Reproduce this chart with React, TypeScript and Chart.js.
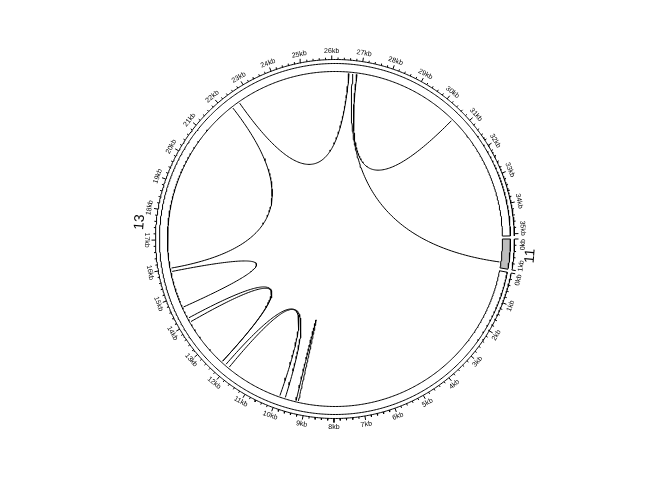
import { useEffect, useRef } from "react";
import { Chart, registerables } from "chart.js";

Chart.register(...registerables);

// ---- data ----
const sectorNames = ["11", "13"];
const sectorLengthsKb = [1.0, 35.07];
const sectorColors = ["#BEBEBE", "#FFFFFF"];

// links: each end is a sector index with a start/end position in kb
const linkFromSector = [0, 1, 1, 1, 1, 1, 1, 1];
const linkFromStartKb = [0.8, 26.87, 26.59, 22.28, 15.9, 14.03, 11.95, 9.25];
const linkFromEndKb = [0.8, 26.87, 26.59, 22.28, 15.9, 14.18, 12.1, 9.25];
const linkToSector = [1, 1, 1, 1, 1, 1, 1, 1];
const linkToStartKb = [26.73, 30.59, 22.57, 16.02, 14.6, 12.26, 9.72, 9.33];
const linkToEndKb = [26.73, 30.59, 22.57, 16.02, 14.6, 12.26, 9.92, 9.33];

const majorTickStepKb = 1;
const minorTicksPerMajor = 4;

// ---- layout / style ----
const START_DEG = 0;
const GAP_DEG = 1;
const R_AXIS = 179.5;
const R_TRACK_OUT = 175.5;
const R_TRACK_IN = 167.5;
const R_LINK = 166;
const R_TICKLABEL = 188;
const R_SECTORLABEL = 196;
const MAJOR_TICK = 4;
const MINOR_TICK = 2;
const FONT = "'Liberation Sans', Arial, Helvetica, sans-serif";

const totalKb = sectorLengthsKb.reduce((a, b) => a + b, 0);
const degPerKb = (360 - GAP_DEG * sectorLengthsKb.length) / totalKb;
const sectorStartDeg: number[] = [];
{
  let a = START_DEG;
  for (let i = 0; i < sectorLengthsKb.length; i++) {
    sectorStartDeg.push(a);
    a += sectorLengthsKb[i] * degPerKb + GAP_DEG;
  }
}
const angOf = (s: number, kb: number) => sectorStartDeg[s] + kb * degPerKb;
const pt = (deg: number, r: number) => {
  const t = (deg * Math.PI) / 180;
  return { x: r * Math.cos(t), y: -r * Math.sin(t) };
};
const arc = (d1: number, d2: number, r: number) => {
  const n = Math.max(2, Math.ceil(Math.abs(d2 - d1) * 2));
  const out = [];
  for (let i = 0; i <= n; i++) out.push(pt(d1 + ((d2 - d1) * i) / n, r));
  return out;
};
// quadratic bezier between two points on the circle, control point at the centre
const bezier = (d1: number, d2: number, r: number) => {
  const p0 = pt(d1, r);
  const p2 = pt(d2, r);
  const out = [];
  const n = 100;
  for (let i = 0; i <= n; i++) {
    const t = i / n;
    const a = (1 - t) * (1 - t);
    const c = t * t;
    out.push({ x: a * p0.x + c * p2.x, y: a * p0.y + c * p2.y });
  }
  return out;
};

function buildDatasets() {
  const ds: any[] = [];
  const line = (data: any[], extra: any = {}) =>
    ds.push({
      type: "scatter",
      data,
      showLine: true,
      borderColor: "#000000",
      borderWidth: 1,
      pointRadius: 0,
      pointHoverRadius: 0,
      fill: false,
      tension: 0,
      ...extra,
    });

  // track cells
  sectorLengthsKb.forEach((len, s) => {
    const a1 = angOf(s, 0);
    const a2 = angOf(s, len);
    const poly = [...arc(a1, a2, R_TRACK_OUT), ...arc(a2, a1, R_TRACK_IN)];
    poly.push(poly[0]);
    line(poly, { fill: "shape", backgroundColor: sectorColors[s] });
  });

  // axes
  const ticks: any[] = [];
  sectorLengthsKb.forEach((len, s) => {
    line(arc(angOf(s, 0), angOf(s, len), R_AXIS));
    const step = majorTickStepKb / (minorTicksPerMajor + 1);
    const n = Math.floor(len / step + 1e-9);
    for (let i = 0; i <= n; i++) {
      const kb = i * step;
      const major = i % (minorTicksPerMajor + 1) === 0;
      const a = angOf(s, kb);
      ticks.push(pt(a, R_AXIS), pt(a, R_AXIS + (major ? MAJOR_TICK : MINOR_TICK)), { x: NaN, y: NaN });
    }
  });
  line(ticks, { spanGaps: false });

  // links
  for (let i = 0; i < linkFromSector.length; i++) {
    const a1 = angOf(linkFromSector[i], linkFromStartKb[i]);
    const a2 = angOf(linkFromSector[i], linkFromEndKb[i]);
    const b1 = angOf(linkToSector[i], linkToStartKb[i]);
    const b2 = angOf(linkToSector[i], linkToEndKb[i]);
    if (a1 === a2 && b1 === b2) {
      line(bezier(a1, b1, R_LINK));
    } else {
      line(bezier(a1, b2, R_LINK));
      line(bezier(a2, b1, R_LINK));
    }
  }
  return ds;
}

const textPlugin = {
  id: "circosText",
  afterDatasetsDraw(chart: any) {
    const { ctx, scales } = chart;
    const xs = scales.x;
    const ys = scales.y;
    const put = (txt: string, deg: number, r: number, size: number, lo?: number, hi?: number) => {
      ctx.save();
      ctx.font = `${size}px ${FONT}`;
      if (lo !== undefined && hi !== undefined) {
        const half = ((ctx.measureText(txt).width / 2 / r) * 180) / Math.PI;
        deg = Math.max(lo + half, Math.min(hi - half, deg));
      }
      const p = pt(deg, r);
      const px = xs.getPixelForValue(p.x);
      const py = ys.getPixelForValue(p.y);
      const d = ((deg % 360) + 360) % 360;
      const rot = d > 0 && d < 180 ? d - 90 : d + 90;
      ctx.translate(px, py);
      ctx.rotate((rot * Math.PI) / 180);
      ctx.fillStyle = "#000000";
      ctx.textAlign = "center";
      ctx.textBaseline = "middle";
      ctx.fillText(txt, 0, 0);
      ctx.restore();
    };
    sectorLengthsKb.forEach((len, s) => {
      const lo = angOf(s, 0);
      const hi = angOf(s, len);
      for (let kb = 0; kb <= len + 1e-9; kb += majorTickStepKb) {
        put(`${Math.round(kb)}kb`, angOf(s, kb), R_TICKLABEL, 7, lo, hi);
      }
      put(sectorNames[s], angOf(s, len / 2), R_SECTORLABEL, 14);
    });
  },
};

export default function App() {
  const ref = useRef<HTMLCanvasElement | null>(null);
  useEffect(() => {
    document.body.style.margin = "0";
    const canvas = ref.current!;
    const chart = new Chart(canvas, {
      type: "scatter",
      data: { datasets: buildDatasets() },
      options: {
        animation: false,
        responsive: false,
        devicePixelRatio: 1,
        layout: { padding: 0 },
        plugins: { legend: { display: false }, tooltip: { enabled: false } },
        events: [],
        scales: {
          x: { type: "linear", min: -335, max: 337, display: false },
          y: { type: "linear", min: -241, max: 239, display: false },
        },
      },
      plugins: [textPlugin],
    });
    return () => chart.destroy();
  }, []);
  return (
    <div style={{ position: "fixed", left: 0, top: 0, width: 672, height: 480, background: "#fff" }}>
      <canvas ref={ref} width={672} height={480} />
    </div>
  );
}
